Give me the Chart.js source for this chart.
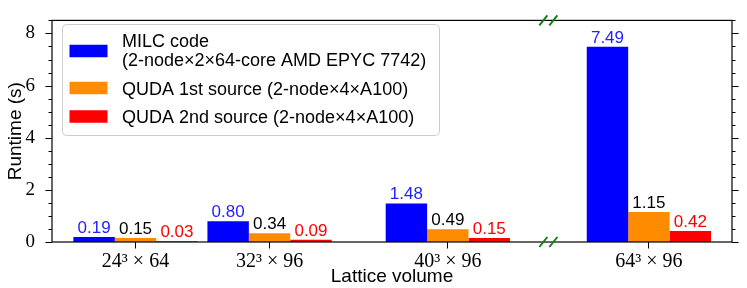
<!DOCTYPE html>
<html>
<head>
<meta charset="utf-8">
<script src="https://cdn.jsdelivr.net/npm/chart.js@4.4.0/dist/chart.umd.min.js"></script>
<style>
  html, body { margin: 0; padding: 0; background: #fff; }
  canvas { display: block; }
</style>
</head>
<body>
<canvas id="runtimeChart" width="747" height="288"></canvas>
<script>
// Lattice volumes on the x axis (numeric positions follow the original plot spacing)
const volumeLabels = ['24³ × 64', '32³ × 96', '40³ × 96', '64³ × 96'];
const volumePos = [0, 1, 2.33, 3.83];
const breakPos = 3.08;

// Runtime in seconds
const milcRuntime = [0.19, 0.80, 1.48, 7.49];
const qudaFirstRuntime = [0.15, 0.34, 0.49, 1.15];
const qudaSecondRuntime = [0.03, 0.09, 0.15, 0.42];

const seriesNames = [
    ['MILC code', '(2-node×2×64-core AMD EPYC 7742)'],
    ['QUDA 1st source (2-node×4×A100)'],
    ['QUDA 2nd source (2-node×4×A100)']
];
const seriesColors = ['#0000ff', '#ff8c00', '#ff0000'];
const valueColors = ['#1f1fff', '#000000', '#ff0000'];

function toPoints(values) {
    return values.map((v, i) => ({ x: volumePos[i], y: v }));
}

// Ticks on both sides of the y axis, major every 2, minor every 0.5
const tickMarks = {
    id: 'tickMarks',
    afterDraw(chart) {
        const { ctx, chartArea, scales } = chart;
        ctx.save();
        ctx.strokeStyle = '#000';
        ctx.lineWidth = 1;
        scales.y.ticks.forEach(t => {
            const py = Math.round(scales.y.getPixelForValue(t.value)) + 0.5;
            const len = (t.value % 2 === 0) ? 6.5 : 3.5;
            ctx.beginPath();
            ctx.moveTo(chartArea.left - len, py);
            ctx.lineTo(chartArea.left, py);
            ctx.moveTo(chartArea.right, py);
            ctx.lineTo(chartArea.right + len, py);
            ctx.stroke();
        });
        // frame
        ctx.lineWidth = 1.2;
        ctx.strokeRect(chartArea.left, chartArea.top, chartArea.right - chartArea.left, chartArea.bottom - chartArea.top);

        // broken axis marks
        const bx = scales.x.getPixelForValue(breakPos);
        ctx.strokeStyle = '#138013';
        ctx.lineWidth = 2;
        [chartArea.top, chartArea.bottom].forEach(y => {
            for (let k = 0; k < 2; k++) {
                ctx.beginPath();
                ctx.moveTo(bx - 9 + 10 * k, y + 5);
                ctx.lineTo(bx - 1 + 10 * k, y - 5);
                ctx.stroke();
            }
        });
        ctx.restore();
    }
};

// Value labels above each bar
const barValues = {
    id: 'barValues',
    afterDatasetsDraw(chart) {
        const { ctx } = chart;
        ctx.save();
        ctx.font = '17px "Liberation Sans", Arial, sans-serif';
        ctx.textAlign = 'center';
        ctx.textBaseline = 'alphabetic';
        chart.data.datasets.forEach((ds, di) => {
            const meta = chart.getDatasetMeta(di);
            ctx.fillStyle = valueColors[di];
            meta.data.forEach((bar, i) => {
                ctx.fillText(ds.data[i].y.toFixed(2), bar.x, bar.y - 4);
            });
        });
        ctx.restore();
    }
};

// Legend box inside the plot, with a two-line first entry
const boxLegend = {
    id: 'boxLegend',
    afterDraw(chart, args, opts) {
        const { ctx } = chart;
        const b = opts.box;
        ctx.save();
        ctx.beginPath();
        ctx.roundRect(b.x + 0.5, b.y + 0.5, b.w, b.h, 4);
        ctx.fillStyle = 'rgba(255,255,255,0.8)';
        ctx.fill();
        ctx.strokeStyle = '#cccccc';
        ctx.lineWidth = 1;
        ctx.stroke();

        ctx.font = '18px "Liberation Sans", Arial, sans-serif';
        ctx.textAlign = 'left';
        ctx.textBaseline = 'alphabetic';
        chart.data.datasets.forEach((ds, di) => {
            const item = opts.items[di];
            ctx.fillStyle = ds.backgroundColor;
            ctx.fillRect(opts.patchX, item.patchY - 6.25, opts.patchW, 12.5);
            ctx.fillStyle = '#000';
            ds.legendLines.forEach((line, li) => {
                ctx.fillText(line, opts.textX, item.baseline + li * 19);
            });
        });
        ctx.restore();
    }
};

const chart = new Chart(document.getElementById('runtimeChart').getContext('2d'), {
    type: 'bar',
    data: {
        datasets: [milcRuntime, qudaFirstRuntime, qudaSecondRuntime].map((vals, i) => ({
            label: seriesNames[i].join(' '),
            legendLines: seriesNames[i],
            data: toPoints(vals),
            backgroundColor: seriesColors[i],
            borderWidth: 0,
            categoryPercentage: 0.927,
            barPercentage: 1.0
        }))
    },
    options: {
        responsive: false,
        animation: false,
        devicePixelRatio: 1,
        layout: { padding: { top: 14, right: 15, left: 0, bottom: 0 } },
        plugins: {
            legend: { display: false },
            tooltip: { enabled: false },
            boxLegend: {
                box: { x: 62, y: 24, w: 377, h: 111 },
                patchX: 69.5,
                patchW: 38,
                textX: 122,
                items: [
                    { patchY: 51, baseline: 47 },
                    { patchY: 88, baseline: 95 },
                    { patchY: 116.5, baseline: 123 }
                ]
            }
        },
        scales: {
            x: {
                type: 'linear',
                min: -0.623,
                max: 4.45,
                offset: false,
                afterFit: s => { s.height = 46; },
                afterBuildTicks: s => { s.ticks = volumePos.map(v => ({ value: v })); },
                border: { display: false },
                grid: {
                    display: true,
                    offset: false,
                    drawOnChartArea: false,
                    drawTicks: true,
                    tickLength: 6.5,
                    tickColor: '#000',
                    tickWidth: 1
                },
                ticks: {
                    padding: 1,
                    color: '#000',
                    font: { family: '"Liberation Serif", "Times New Roman", serif', size: 20 },
                    callback: v => volumeLabels[volumePos.indexOf(v)]
                },
                title: {
                    display: true,
                    text: 'Lattice volume',
                    color: '#000',
                    font: { family: '"Liberation Sans", Arial, sans-serif', size: 19 },
                    padding: { top: 0, bottom: 0 }
                }
            },
            y: {
                min: 0,
                max: 8.5,
                afterFit: s => { s.width = 52; },
                border: { display: false },
                grid: { display: false },
                ticks: {
                    stepSize: 0.5,
                    padding: 9,
                    color: '#000',
                    autoSkip: false,
                    font: { family: '"Liberation Serif", "Times New Roman", serif', size: 19 },
                    callback: v => (v % 2 === 0 ? String(v) : '')
                },
                title: {
                    display: true,
                    text: 'Runtime (s)',
                    color: '#000',
                    font: { family: '"Liberation Sans", Arial, sans-serif', size: 19 },
                    padding: { top: 4, bottom: 0 }
                }
            }
        }
    },
    plugins: [barValues, tickMarks, boxLegend]
});
</script>
</body>
</html>
